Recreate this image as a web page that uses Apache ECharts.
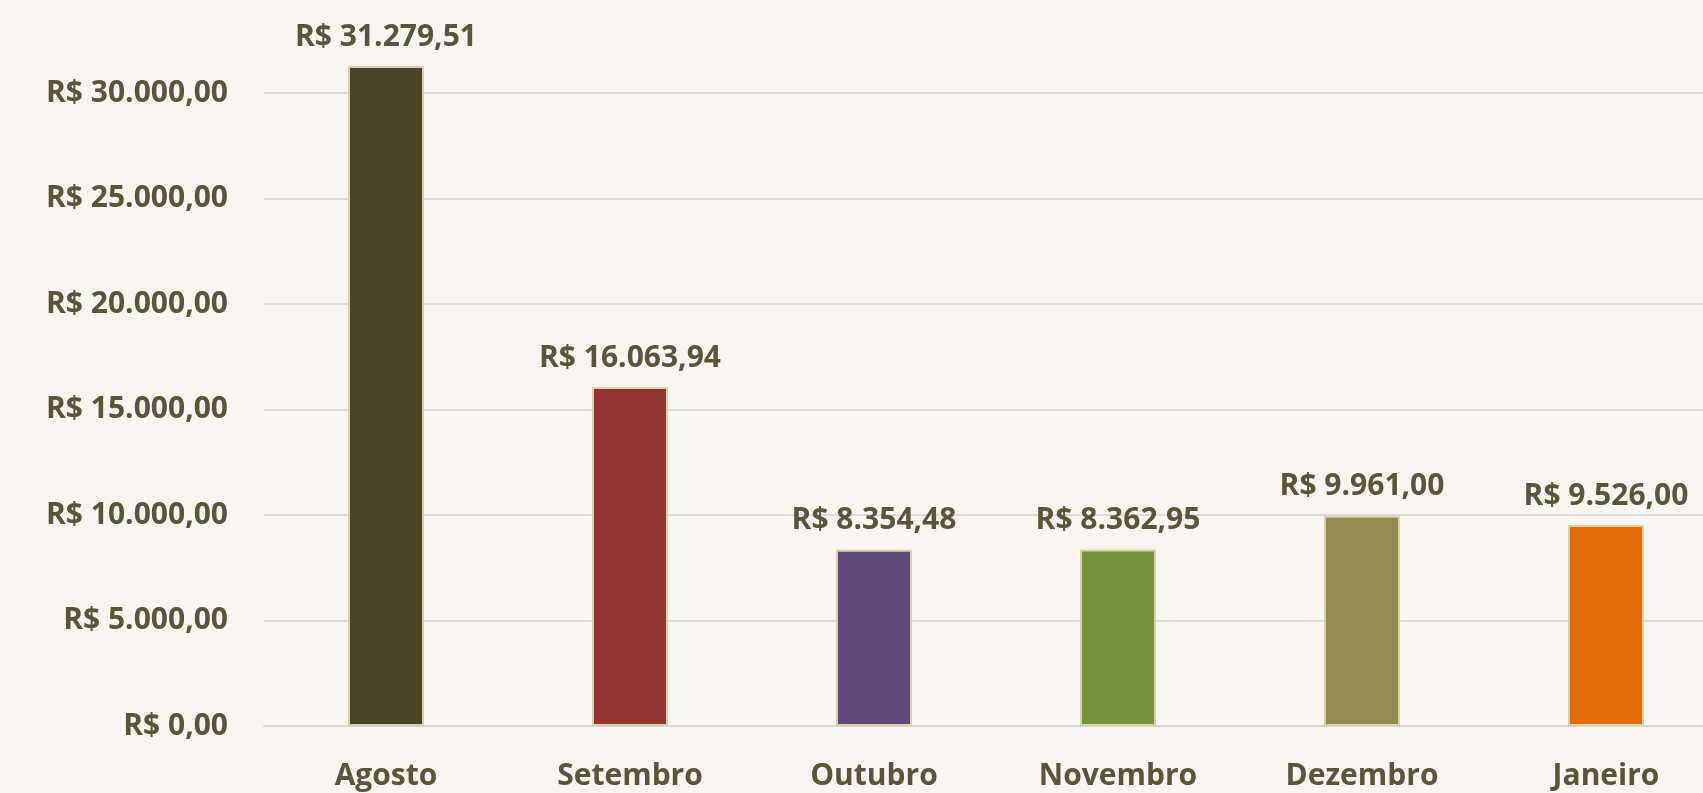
<!DOCTYPE html>
<html>
<head>
<meta charset="utf-8">
<script src="https://cdn.jsdelivr.net/npm/echarts@6/dist/echarts.min.js"></script>
<style>
  html, body { margin: 0; padding: 0; background: #f9f6f1; overflow: hidden; }
  #myChart { width: 1728px; height: 793px; }
</style>
</head>
<body>
<div id="myChart"></div>
<script>
// dados
const meses = ['Agosto', 'Setembro', 'Outubro', 'Novembro', 'Dezembro', 'Janeiro']
const valores = [31279.51, 16063.94, 8354.48, 8362.95, 9961.00, 9526.00]
const cores = ['#4a4429', '#943634', '#604a7b', '#76923c', '#948a54', '#e36c09']

const corTexto = '#59543a'
const fonte = '"Open Sans", "Noto Sans", sans-serif'

function reais (v) {
    const partes = v.toFixed(2).split('.')
    const inteiro = partes[0].replace(/\B(?=(\d{3})+(?!\d))/g, '.')
    return 'R$ ' + inteiro + ',' + partes[1]
}

let myChart = echarts.init(document.getElementById('myChart'))
var option = {
    backgroundColor: '#f9f6f1',
    animation: false,
    grid: { left: 264, right: 0, top: 93, bottom: 67 },
    xAxis: {
        type: 'category',
        data: meses,
        axisLine: { show: true, lineStyle: { color: '#d9d9d9', width: 2 } },
        axisTick: { show: false },
        axisLabel: {
            color: corTexto, fontFamily: fonte, fontWeight: 'bold', fontSize: 30, margin: 35
        }
    },
    yAxis: {
        type: 'value',
        min: 0,
        max: 30000,
        interval: 5000,
        axisLine: { show: false },
        axisTick: { show: false },
        splitLine: { lineStyle: { color: '#dcdcdc', width: 2 } },
        axisLabel: {
            color: corTexto, fontFamily: fonte, fontWeight: 'bold', fontSize: 30, margin: 36,
            formatter: reais
        }
    },
    series: [{
        type: 'bar',
        clip: false,
        barWidth: 76,
        data: valores.map((v, i) => ({
            value: v,
            itemStyle: { color: cores[i], borderColor: '#d8d0a8', borderWidth: 2 }
        })),
        label: {
            show: true,
            position: 'top',
            distance: 14,
            color: corTexto,
            fontFamily: fonte,
            fontWeight: 'bold',
            fontSize: 30,
            formatter: p => reais(p.value)
        }
    }]
}
myChart.setOption(option)
</script>
</body>
</html>
